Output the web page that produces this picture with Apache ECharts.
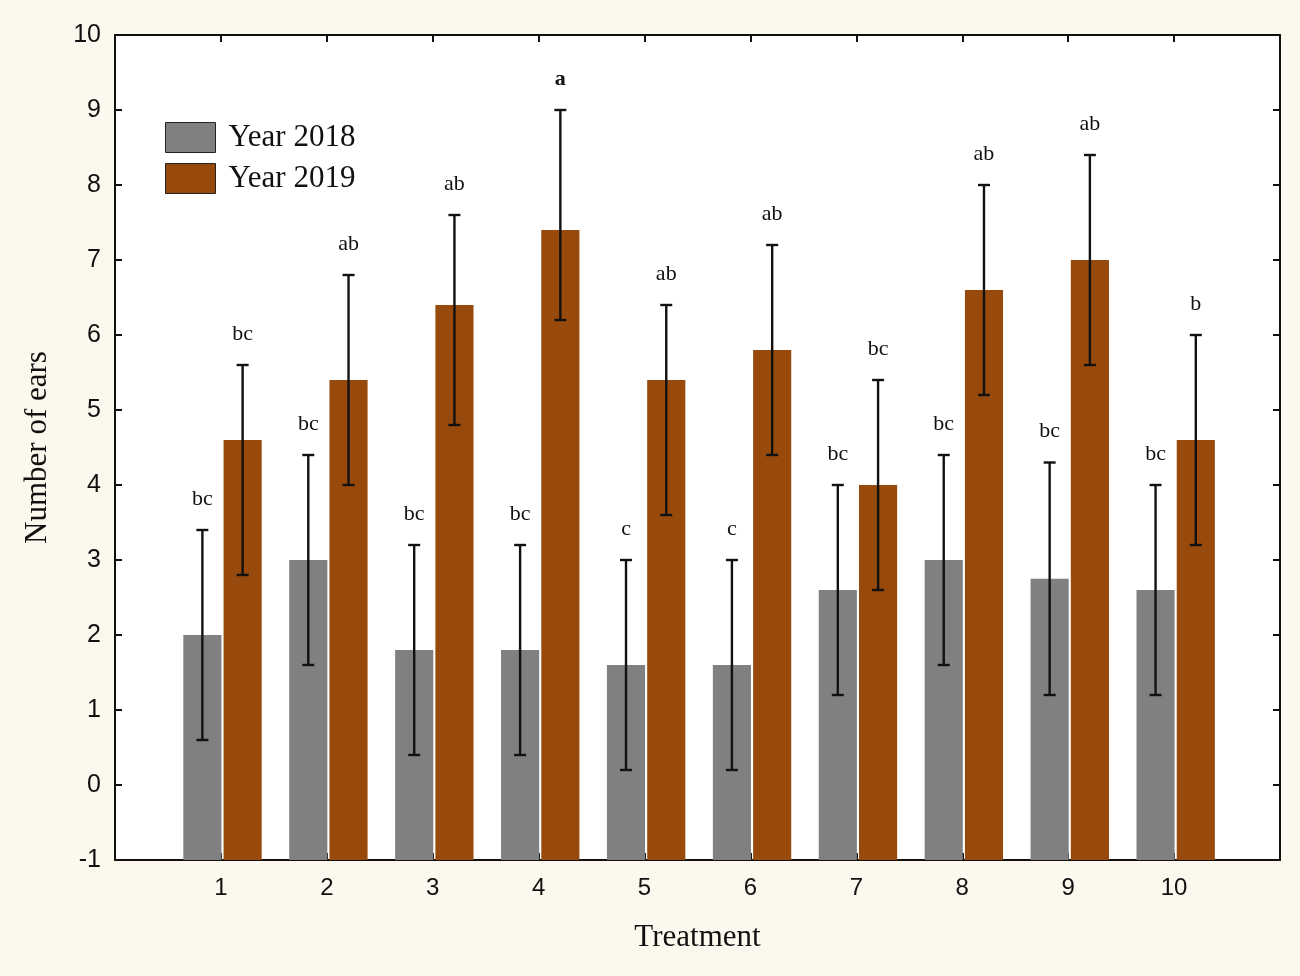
<!DOCTYPE html>
<html>
<head>
<meta charset="utf-8">
<script src="https://cdn.jsdelivr.net/npm/echarts@6/dist/echarts.min.js"></script>
<style>
html,body{margin:0;padding:0;background:#fcf8ee;}
#chart{width:1300px;height:976px;}
</style>
</head>
<body>
<div id="chart"></div>
<script>
// ---- data ----
const categories = [1, 2, 3, 4, 5, 6, 7, 8, 9, 10];
const tickLabels = ['1', '2', '3', '4', '5', '6', '7', '8', '9', '10'];
const yTicks = [-1, 0, 1, 2, 3, 4, 5, 6, 7, 8, 9, 10];

const mean2018 = [2.0, 3.0, 1.8, 1.8, 1.6, 1.6, 2.6, 3.0, 2.75, 2.6];
const low2018  = [0.6, 1.6, 0.4, 0.4, 0.2, 0.2, 1.2, 1.6, 1.2, 1.2];
const high2018 = [3.4, 4.4, 3.2, 3.2, 3.0, 3.0, 4.0, 4.4, 4.3, 4.0];
const letters2018 = ['bc', 'bc', 'bc', 'bc', 'c', 'c', 'bc', 'bc', 'bc', 'bc'];

const mean2019 = [4.6, 5.4, 6.4, 7.4, 5.4, 5.8, 4.0, 6.6, 7.0, 4.6];
const low2019  = [2.8, 4.0, 4.8, 6.2, 3.6, 4.4, 2.6, 5.2, 5.6, 3.2];
const high2019 = [5.6, 6.8, 7.6, 9.0, 6.4, 7.2, 5.4, 8.0, 8.4, 6.0];
const letters2019 = ['bc', 'ab', 'ab', 'a', 'ab', 'ab', 'bc', 'ab', 'ab', 'b'];

const seriesNames = ['Year 2018', 'Year 2019'];

// ---- styling ----
const Y_MIN = yTicks[0], Y_MAX = yTicks[yTicks.length - 1];
const X_MIN = 0, X_MAX = 11;
const colors = ['#808080', '#974a0c'];
const BAR_W = 0.36;
const offsets = [-0.355, 0.025];

function makeData(means, lows, highs) {
  return categories.map((c, i) => [c, means[i], lows[i], highs[i]]);
}

function makeRender(offset, letters, color) {
  return function (params, api) {
    const x = api.value(0), v = api.value(1), lo = api.value(2), hi = api.value(3);
    const unit = api.size([1, 0])[0];
    const base = api.coord([x, Y_MIN]);
    const top = api.coord([x, v]);
    const x0 = base[0] + offset * unit;
    const w = BAR_W * unit;
    const cx = x0 + w / 2;
    const loY = api.coord([x, lo])[1];
    const hiY = api.coord([x, hi])[1];
    const cap = 6;
    const ls = { stroke: '#111', lineWidth: 2.4 };
    const letter = letters[params.dataIndex];
    return {
      type: 'group',
      children: [
        { type: 'rect', shape: { x: x0, y: top[1], width: w, height: base[1] - top[1] },
          style: { fill: color } },
        { type: 'line', shape: { x1: cx, y1: loY, x2: cx, y2: hiY }, style: ls },
        { type: 'line', shape: { x1: cx - cap, y1: loY, x2: cx + cap, y2: loY }, style: ls },
        { type: 'line', shape: { x1: cx - cap, y1: hiY, x2: cx + cap, y2: hiY }, style: ls },
        { type: 'text', x: cx, y: hiY - 20,
          style: { text: letter, fill: '#111', font: (letter === 'a' ? 'bold ' : '') + '22px "Liberation Serif"',
                   textAlign: 'center', textVerticalAlign: 'bottom' } }
      ]
    };
  };
}

const chart = echarts.init(document.getElementById('chart'));
const axisLine = { show: true, onZero: false, lineStyle: { color: '#111', width: 2 } };
const axisTick = { show: true, inside: true, length: 7, lineStyle: { color: '#111', width: 2 } };

chart.setOption({
  backgroundColor: '#fcf8ee',
  animation: false,
  grid: { left: 115, right: 20, top: 35, bottom: 116, show: true, backgroundColor: '#ffffff', borderWidth: 0 },
  legend: {
    orient: 'vertical', left: 165, top: 122, padding: 0, itemWidth: 50, itemHeight: 30, itemGap: 10,
    data: seriesNames.map(n => ({ name: n, icon: 'rect' })),
    itemStyle: { borderColor: '#222', borderWidth: 1 },
    textStyle: { fontFamily: 'Liberation Serif', fontSize: 31, color: '#111', padding: [0, 0, 0, 8] },
    selectedMode: false
  },
  xAxis: [
    {
      type: 'value', min: X_MIN, max: X_MAX, interval: 1, position: 'bottom',
      name: 'Treatment', nameLocation: 'middle', nameGap: 62,
      nameTextStyle: { fontFamily: 'Liberation Serif', fontSize: 31, color: '#111' },
      axisLine, axisTick, splitLine: { show: false },
      axisLabel: { margin: 16, fontFamily: 'Liberation Sans', fontSize: 24, color: '#111',
        formatter: v => { const i = categories.indexOf(v); return i >= 0 ? tickLabels[i] : ''; } }
    },
    {
      type: 'value', min: X_MIN, max: X_MAX, interval: 1, position: 'top',
      axisLine, axisTick, splitLine: { show: false }, axisLabel: { show: false }
    }
  ],
  yAxis: [
    {
      type: 'value', min: Y_MIN, max: Y_MAX, interval: 1, position: 'left',
      name: 'Number of ears', nameLocation: 'middle', nameGap: 62,
      nameTextStyle: { fontFamily: 'Liberation Serif', fontSize: 31, color: '#111' },
      axisLine, axisTick, splitLine: { show: false },
      axisLabel: { margin: 14, fontFamily: 'Liberation Sans', fontSize: 25, color: '#111' }
    },
    {
      type: 'value', min: Y_MIN, max: Y_MAX, interval: 1, position: 'right',
      axisLine, axisTick, splitLine: { show: false }, axisLabel: { show: false }
    }
  ],
  series: [
    {
      name: seriesNames[0], type: 'custom', xAxisIndex: 0, yAxisIndex: 0,
      itemStyle: { color: colors[0] },
      data: makeData(mean2018, low2018, high2018),
      renderItem: makeRender(offsets[0], letters2018, colors[0])
    },
    {
      name: seriesNames[1], type: 'custom', xAxisIndex: 0, yAxisIndex: 0,
      itemStyle: { color: colors[1] },
      data: makeData(mean2019, low2019, high2019),
      renderItem: makeRender(offsets[1], letters2019, colors[1])
    }
  ]
});
</script>
</body>
</html>
